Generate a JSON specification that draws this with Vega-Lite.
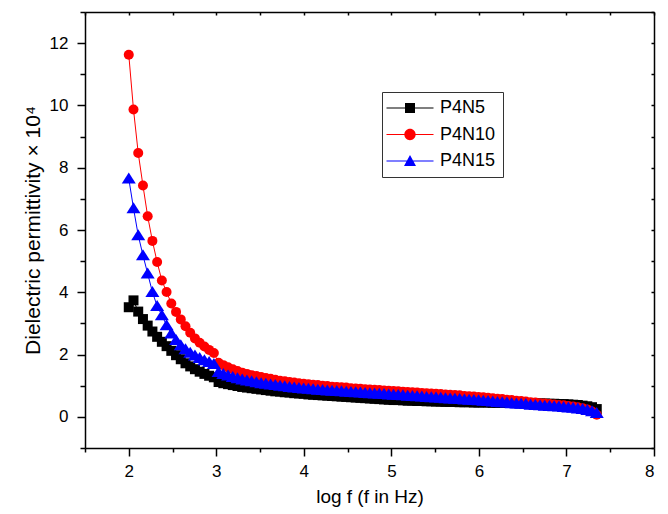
{
"$schema": "https://vega.github.io/schema/vega-lite/v6.json",
"width": 569, "height": 436,
"autosize": {"type": "none"},
"padding": {"left": 85, "top": 12, "right": 14, "bottom": 66},
"background": "white",
"config": {"view": {"stroke": null}, "font": "Liberation Sans",
 "axis": {"grid": false, "domainColor": "black", "tickColor": "black", "labelColor": "black", "titleColor": "black", "labelFont": "Liberation Sans", "titleFont": "Liberation Sans", "labelFontSize": 17, "titleFontSize": 20, "titleFontWeight": "normal", "domainWidth": 1.5, "tickWidth": 1.5},
 "legend": {"title": null, "orient": "none", "legendX": 297, "legendY": 80, "padding": 7, "strokeColor": "#333333", "fillColor": "white",
       "labelFontSize": 18, "labelFont": "Liberation Sans", "labelColor": "black", "symbolSize": 100, "symbolOffset": 12, "labelOffset": 21, "rowPadding": 8.5}},
"data": {"values": [
{"x":2.000,"P4N5":3.52,"P4N10":11.63,"P4N15":7.65},
{"x":2.054,"P4N5":3.74,"P4N10":9.87,"P4N15":6.70},
{"x":2.108,"P4N5":3.38,"P4N10":8.47,"P4N15":5.83},
{"x":2.162,"P4N5":3.14,"P4N10":7.43,"P4N15":5.19},
{"x":2.216,"P4N5":2.93,"P4N10":6.44,"P4N15":4.60},
{"x":2.270,"P4N5":2.74,"P4N10":5.65,"P4N15":4.01},
{"x":2.324,"P4N5":2.57,"P4N10":4.97,"P4N15":3.56},
{"x":2.378,"P4N5":2.41,"P4N10":4.38,"P4N15":3.26},
{"x":2.432,"P4N5":2.27,"P4N10":4.01,"P4N15":2.94},
{"x":2.486,"P4N5":2.12,"P4N10":3.64,"P4N15":2.68},
{"x":2.540,"P4N5":1.98,"P4N10":3.37,"P4N15":2.47},
{"x":2.594,"P4N5":1.85,"P4N10":3.13,"P4N15":2.30},
{"x":2.648,"P4N5":1.72,"P4N10":2.91,"P4N15":2.17},
{"x":2.702,"P4N5":1.62,"P4N10":2.70,"P4N15":2.06},
{"x":2.756,"P4N5":1.53,"P4N10":2.52,"P4N15":1.97},
{"x":2.810,"P4N5":1.45,"P4N10":2.38,"P4N15":1.89},
{"x":2.864,"P4N5":1.38,"P4N10":2.26,"P4N15":1.82},
{"x":2.918,"P4N5":1.32,"P4N10":2.15,"P4N15":1.76},
{"x":2.972,"P4N5":1.27,"P4N10":2.05,"P4N15":1.70},
{"x":3.026,"P4N5":1.12,"P4N10":1.74,"P4N15":1.44},
{"x":3.080,"P4N5":1.08,"P4N10":1.66,"P4N15":1.38},
{"x":3.134,"P4N5":1.05,"P4N10":1.59,"P4N15":1.33},
{"x":3.188,"P4N5":1.02,"P4N10":1.53,"P4N15":1.28},
{"x":3.242,"P4N5":0.99,"P4N10":1.47,"P4N15":1.24},
{"x":3.296,"P4N5":0.96,"P4N10":1.42,"P4N15":1.20},
{"x":3.350,"P4N5":0.94,"P4N10":1.38,"P4N15":1.17},
{"x":3.404,"P4N5":0.92,"P4N10":1.34,"P4N15":1.14},
{"x":3.458,"P4N5":0.90,"P4N10":1.31,"P4N15":1.11},
{"x":3.512,"P4N5":0.88,"P4N10":1.28,"P4N15":1.08},
{"x":3.566,"P4N5":0.86,"P4N10":1.25,"P4N15":1.06},
{"x":3.620,"P4N5":0.84,"P4N10":1.22,"P4N15":1.04},
{"x":3.674,"P4N5":0.82,"P4N10":1.19,"P4N15":1.02},
{"x":3.728,"P4N5":0.81,"P4N10":1.16,"P4N15":1.00},
{"x":3.782,"P4N5":0.79,"P4N10":1.14,"P4N15":0.98},
{"x":3.836,"P4N5":0.78,"P4N10":1.12,"P4N15":0.96},
{"x":3.890,"P4N5":0.76,"P4N10":1.10,"P4N15":0.94},
{"x":3.944,"P4N5":0.75,"P4N10":1.08,"P4N15":0.93},
{"x":3.998,"P4N5":0.74,"P4N10":1.06,"P4N15":0.91},
{"x":4.052,"P4N5":0.72,"P4N10":1.05,"P4N15":0.90},
{"x":4.106,"P4N5":0.71,"P4N10":1.03,"P4N15":0.89},
{"x":4.160,"P4N5":0.70,"P4N10":1.02,"P4N15":0.87},
{"x":4.214,"P4N5":0.69,"P4N10":1.00,"P4N15":0.86},
{"x":4.268,"P4N5":0.68,"P4N10":0.99,"P4N15":0.85},
{"x":4.322,"P4N5":0.67,"P4N10":0.97,"P4N15":0.84},
{"x":4.376,"P4N5":0.66,"P4N10":0.96,"P4N15":0.83},
{"x":4.430,"P4N5":0.65,"P4N10":0.95,"P4N15":0.82},
{"x":4.484,"P4N5":0.64,"P4N10":0.94,"P4N15":0.81},
{"x":4.538,"P4N5":0.63,"P4N10":0.92,"P4N15":0.80},
{"x":4.592,"P4N5":0.62,"P4N10":0.91,"P4N15":0.79},
{"x":4.646,"P4N5":0.61,"P4N10":0.90,"P4N15":0.78},
{"x":4.700,"P4N5":0.60,"P4N10":0.89,"P4N15":0.77},
{"x":4.754,"P4N5":0.59,"P4N10":0.88,"P4N15":0.76},
{"x":4.808,"P4N5":0.58,"P4N10":0.87,"P4N15":0.75},
{"x":4.862,"P4N5":0.57,"P4N10":0.86,"P4N15":0.74},
{"x":4.916,"P4N5":0.56,"P4N10":0.85,"P4N15":0.73},
{"x":4.970,"P4N5":0.55,"P4N10":0.84,"P4N15":0.72},
{"x":5.024,"P4N5":0.54,"P4N10":0.83,"P4N15":0.71},
{"x":5.078,"P4N5":0.54,"P4N10":0.82,"P4N15":0.70},
{"x":5.132,"P4N5":0.53,"P4N10":0.81,"P4N15":0.69},
{"x":5.186,"P4N5":0.52,"P4N10":0.80,"P4N15":0.68},
{"x":5.240,"P4N5":0.52,"P4N10":0.79,"P4N15":0.67},
{"x":5.294,"P4N5":0.51,"P4N10":0.78,"P4N15":0.66},
{"x":5.348,"P4N5":0.51,"P4N10":0.77,"P4N15":0.65},
{"x":5.402,"P4N5":0.50,"P4N10":0.76,"P4N15":0.64},
{"x":5.456,"P4N5":0.50,"P4N10":0.75,"P4N15":0.63},
{"x":5.510,"P4N5":0.49,"P4N10":0.74,"P4N15":0.62},
{"x":5.564,"P4N5":0.49,"P4N10":0.73,"P4N15":0.61},
{"x":5.618,"P4N5":0.48,"P4N10":0.72,"P4N15":0.60},
{"x":5.672,"P4N5":0.48,"P4N10":0.71,"P4N15":0.59},
{"x":5.726,"P4N5":0.48,"P4N10":0.70,"P4N15":0.58},
{"x":5.780,"P4N5":0.47,"P4N10":0.69,"P4N15":0.57},
{"x":5.834,"P4N5":0.47,"P4N10":0.67,"P4N15":0.56},
{"x":5.888,"P4N5":0.47,"P4N10":0.66,"P4N15":0.55},
{"x":5.942,"P4N5":0.46,"P4N10":0.65,"P4N15":0.54},
{"x":5.996,"P4N5":0.46,"P4N10":0.64,"P4N15":0.53},
{"x":6.050,"P4N5":0.46,"P4N10":0.63,"P4N15":0.52},
{"x":6.104,"P4N5":0.46,"P4N10":0.61,"P4N15":0.51},
{"x":6.158,"P4N5":0.45,"P4N10":0.60,"P4N15":0.49},
{"x":6.212,"P4N5":0.45,"P4N10":0.58,"P4N15":0.48},
{"x":6.266,"P4N5":0.45,"P4N10":0.57,"P4N15":0.47},
{"x":6.320,"P4N5":0.45,"P4N10":0.55,"P4N15":0.46},
{"x":6.374,"P4N5":0.45,"P4N10":0.54,"P4N15":0.44},
{"x":6.428,"P4N5":0.44,"P4N10":0.52,"P4N15":0.43},
{"x":6.482,"P4N5":0.44,"P4N10":0.51,"P4N15":0.42},
{"x":6.536,"P4N5":0.44,"P4N10":0.49,"P4N15":0.41},
{"x":6.590,"P4N5":0.44,"P4N10":0.47,"P4N15":0.39},
{"x":6.644,"P4N5":0.43,"P4N10":0.46,"P4N15":0.38},
{"x":6.698,"P4N5":0.43,"P4N10":0.44,"P4N15":0.37},
{"x":6.752,"P4N5":0.43,"P4N10":0.43,"P4N15":0.36},
{"x":6.806,"P4N5":0.42,"P4N10":0.41,"P4N15":0.35},
{"x":6.860,"P4N5":0.42,"P4N10":0.40,"P4N15":0.34},
{"x":6.914,"P4N5":0.41,"P4N10":0.38,"P4N15":0.33},
{"x":6.968,"P4N5":0.41,"P4N10":0.37,"P4N15":0.32},
{"x":7.022,"P4N5":0.40,"P4N10":0.35,"P4N15":0.30},
{"x":7.076,"P4N5":0.39,"P4N10":0.33,"P4N15":0.29},
{"x":7.130,"P4N5":0.38,"P4N10":0.31,"P4N15":0.27},
{"x":7.184,"P4N5":0.36,"P4N10":0.28,"P4N15":0.25},
{"x":7.238,"P4N5":0.34,"P4N10":0.24,"P4N15":0.22},
{"x":7.292,"P4N5":0.31,"P4N10":0.17,"P4N15":0.18},
{"x":7.346,"P4N5":0.25,"P4N10":0.07,"P4N15":0.12}
]},
"transform": [{"fold": ["P4N5", "P4N10", "P4N15"], "as": ["series", "value"]}],
"resolve": {"axis": {"x": "independent", "y": "independent"}},
"layer": [
 {"transform": [{"filter": {"field": "series", "equal": "P4N5"}}],
  "mark": {"type": "line", "color": "#000000", "strokeWidth": 1,
           "point": {"filled": true, "shape": "M-1,-1H1V1H-1Z", "size": 100, "color": "#000000", "opacity": 1, "strokeWidth": 0}},
  "encoding": {
   "x": {"field": "x", "type": "quantitative", "scale": {"domain": [1.5, 8], "nice": false, "zero": false},
         "axis": {"orient": "bottom", "values": [2, 3, 4, 5, 6, 7, 8], "format": "d", "tickSize": 8, "labelPadding": 7, "title": "log f (f in Hz)", "titlePadding": 8, "titleFontSize": 19}},
   "y": {"field": "value", "type": "quantitative", "scale": {"domain": [-1, 13], "nice": false, "zero": false},
         "axis": {"orient": "left", "values": [0, 2, 4, 6, 8, 10, 12], "format": "d", "tickSize": 8, "labelPadding": 9, "title": "Dielectric permittivity × 10⁴", "titlePadding": 6, "titleFontSize": 21}}
  }},
 {"transform": [{"filter": {"field": "series", "equal": "P4N10"}}],
  "mark": {"type": "line", "color": "#ff0000", "strokeWidth": 1,
           "point": {"filled": true, "shape": "circle", "size": 100, "color": "#ff0000", "opacity": 1, "strokeWidth": 0}},
  "encoding": {
   "x": {"field": "x", "type": "quantitative", "scale": {"domain": [1.5, 8], "nice": false, "zero": false},
         "axis": {"orient": "bottom", "values": [1.5, 2.5, 3.5, 4.5, 5.5, 6.5, 7.5], "tickSize": 4, "labels": false, "domain": false, "title": null}},
   "y": {"field": "value", "type": "quantitative", "scale": {"domain": [-1, 13], "nice": false, "zero": false},
         "axis": {"orient": "left", "values": [-1, 1, 3, 5, 7, 9, 11, 13], "tickSize": 5, "labels": false, "domain": false, "title": null}}
  }},
 {"transform": [{"filter": {"field": "series", "equal": "P4N15"}}],
  "mark": {"type": "line", "color": "#0000ff", "strokeWidth": 1,
           "point": {"filled": true, "shape": "M0,-1.2L1.4,1L-1.4,1Z", "size": 100, "color": "#0000ff", "opacity": 1, "strokeWidth": 0}},
  "encoding": {
   "x": {"field": "x", "type": "quantitative", "scale": {"domain": [1.5, 8], "nice": false, "zero": false},
         "axis": {"orient": "top", "values": [1.5, 2, 2.5, 3, 3.5, 4, 4.5, 5, 5.5, 6, 6.5, 7, 7.5, 8], "tickSize": -3, "labels": false, "title": null}},
   "y": {"field": "value", "type": "quantitative", "scale": {"domain": [-1, 13], "nice": false, "zero": false},
         "axis": {"orient": "right", "values": [-1, 0, 1, 2, 3, 4, 5, 6, 7, 8, 9, 10, 11, 12, 13], "tickSize": -3, "labels": false, "title": null}}
  }},
 {"transform": [{"filter": "false"}],
  "mark": {"type": "point", "filled": true, "opacity": 1, "size": 100, "strokeWidth": 0},
  "encoding": {
   "x": {"field": "x", "type": "quantitative", "scale": {"domain": [1.5, 8], "nice": false, "zero": false}, "axis": null},
   "y": {"field": "value", "type": "quantitative", "scale": {"domain": [-1, 13], "nice": false, "zero": false}, "axis": null},
   "color": {"field": "series", "type": "nominal", "scale": {"domain": ["P4N5", "P4N10", "P4N15"], "range": ["#000000", "#ff0000", "#0000ff"]}},
   "shape": {"field": "series", "type": "nominal", "scale": {"domain": ["P4N5", "P4N10", "P4N15"],
      "range": ["M-4.7,-0.1H4.7V0.1H-4.7ZM-1,-1H1V1H-1Z",
                "M-4.7,-0.1H4.7V0.1H-4.7ZM-1.13,0A1.13,1.13,0,1,1,1.13,0A1.13,1.13,0,1,1,-1.13,0Z",
                "M-4.7,-0.1H4.7V0.1H-4.7ZM0,-1.2L1.2,1L-1.2,1Z"]}}
  }}
]
}
